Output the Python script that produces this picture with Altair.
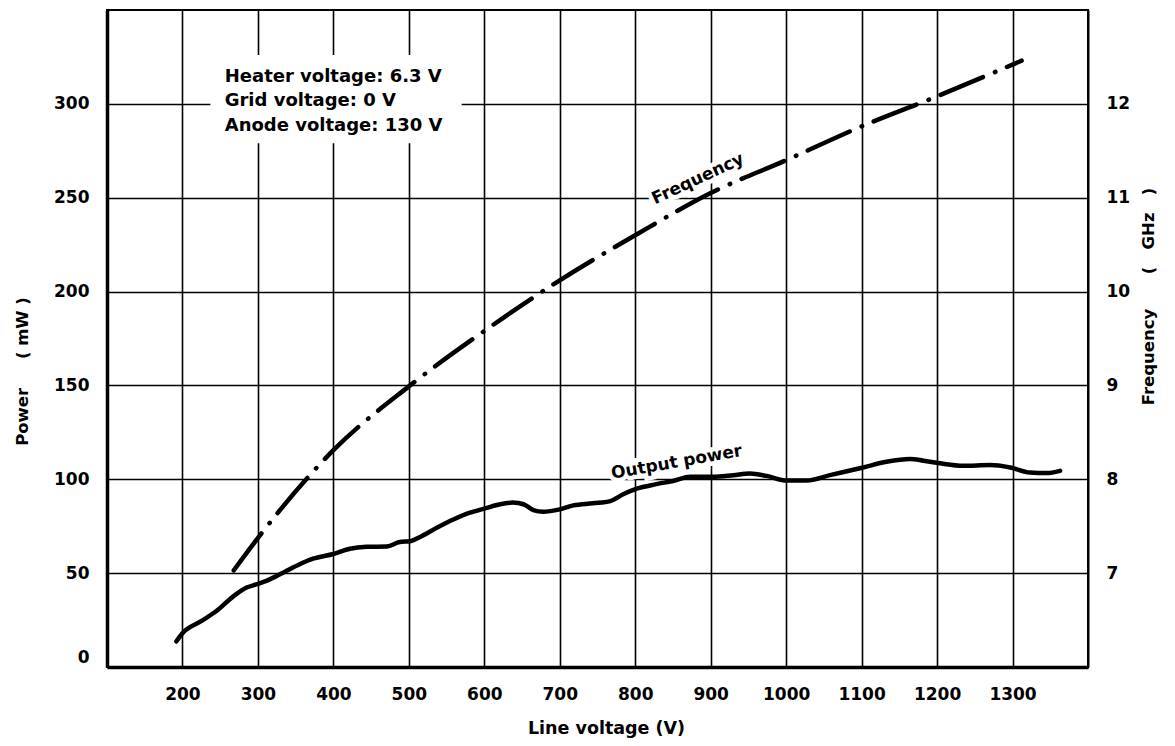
import altair as alt
import pandas as pd

# ---- data ----
power_volts = [192, 200, 223, 245, 267, 285, 300, 312, 334, 356, 373, 400, 422, 444, 471,
               488, 502, 515, 537, 559, 581, 601, 621, 638, 652, 665, 678, 700, 718, 744,
               767, 784, 802, 828, 850, 873, 903, 930, 952, 974, 1001, 1027, 1058, 1102,
               1133, 1164, 1182, 1204, 1235, 1270, 1297, 1323, 1345, 1363]
power_mw = [13.7, 18.0, 24.0, 29.8, 37.5, 42.3, 44.3, 46.0, 50.4, 54.9, 57.7, 60.2, 63.0, 64.0, 64.2,
            66.6, 67.0, 69.3, 74.2, 78.6, 82.2, 84.5, 86.7, 87.6, 86.7, 83.6, 82.7, 84.0, 86.1, 87.2,
            88.4, 92.0, 95.0, 97.4, 99.1, 101.3, 101.3, 102.2, 103.1, 101.8, 99.3, 99.3, 102.2, 106.3,
            109.3, 110.8, 109.9, 108.5, 107.2, 107.6, 106.3, 103.6, 103.3, 104.5]

freq_volts = [268, 320, 400, 500, 600, 700, 800, 900, 1000, 1100, 1200, 1312]
freq_ghz = [7.03, 7.58, 8.31, 8.99, 9.58, 10.12, 10.60, 11.05, 11.40, 11.76, 12.08, 12.46]

x_ticks = [200, 300, 400, 500, 600, 700, 800, 900, 1000, 1100, 1200, 1300]
power_ticks = [0, 50, 100, 150, 200, 250, 300]
freq_ticks = [7, 8, 9, 10, 11, 12]

NB = "\u00a0"
x_title = "Line voltage (V)"
power_title = "Power" + NB * 5 + "(" + NB + "mW" + NB + ")"
freq_title = "Frequency" + NB * 6 + "(" + NB * 3 + "GHz" + NB * 3 + ")"
annotation_lines = ["Heater voltage: 6.3 V", "Grid voltage: 0 V", "Anode voltage: 130 V"]
curve_labels = ["Frequency", "Output power"]

FONT = "DejaVu Sans"
WEIGHT = "bold"

power_df = pd.DataFrame({"v": power_volts, "p": power_mw})
freq_df = pd.DataFrame({"v": freq_volts, "f": freq_ghz})

x_axis = alt.Axis(values=x_ticks, format="d", grid=True, title=x_title, titleX=499,
                  titleY=70, titleBaseline="bottom", labelPadding=19, domainWidth=3.5, ticks=False,
                  tickSize=0, labelFontSize=17, titleFontSize=17.5, gridWidth=1.6)
x_scale = alt.Scale(domain=[100, 1400], nice=False, zero=False)
p_scale = alt.Scale(domain=[0, 350], nice=False, zero=False)
f_scale = alt.Scale(domain=[6, 13], nice=False, zero=False)


def X(field="v"):
    return alt.X(f"{field}:Q", scale=x_scale, axis=x_axis)


def YP(field="p", axis=None):
    return alt.Y(f"{field}:Q", scale=p_scale, axis=axis)


# white background behind the condition block (breaks the grid like the original)
box_df = pd.DataFrame({"v": [237], "v2": [570], "p": [279], "p2": [326]})
box = alt.Chart(box_df).mark_rect(color="white").encode(
    x=X(), x2="v2:Q", y=YP(), y2="p2:Q")

lab_df = pd.DataFrame({"v": [883, 855], "p": [260, 109], "t": curve_labels, "a": [335, 350]})


def curve_text(halo):
    kw = dict(stroke="white", strokeWidth=9, fill="white") if halo else dict(color="black")
    return alt.Chart(lab_df).mark_text(font=FONT, fontSize=17, fontWeight=WEIGHT,
                                       align="center", baseline="middle", **kw).encode(
        x=X(), y=YP(), text="t:N", angle=alt.Angle("a:Q", scale=None))


halo = curve_text(True)
labels = curve_text(False)

power_axis = alt.Axis(values=power_ticks, format="d", grid=True, title=power_title, titleX=-85,
                      titleY=361, titleAngle=270, titleBaseline="middle", labelPadding=18,
                      domainWidth=3.5, ticks=False, tickSize=0, labelFontSize=17,
                      titleFontSize=16.5, gridWidth=1.6,
                      labelOffset={"condition": {"test": "datum.value === 0", "value": -10}, "value": 0})

power = alt.Chart(power_df).mark_line(color="black", strokeWidth=4.5, interpolate="monotone",
                                      strokeCap="round", strokeJoin="round").encode(
    x=X(), y=YP(axis=power_axis))

freq_axis = alt.Axis(values=freq_ticks, format="d", orient="right", grid=False,
                     title=freq_title, titleX=60, titleY=286, titleAngle=270,
                     titleBaseline="middle", labelPadding=18, domainWidth=2, ticks=False,
                     tickSize=0, labelFontSize=17, titleFontSize=16.5)

freq = alt.Chart(freq_df).mark_line(color="black", strokeWidth=4.5, interpolate="monotone",
                                    strokeCap="round", strokeDash=[46, 13, 0.5, 12.5]).encode(
    x=X(), y=alt.Y("f:Q", scale=f_scale, axis=freq_axis))

ann_df = pd.DataFrame({"v": [256], "p": [314.5]})
ann = alt.Chart(ann_df).mark_text(font=FONT, fontSize=18, fontWeight=WEIGHT, align="left",
                                  baseline="middle", lineHeight=24.5, color="black").encode(
    x=X(), y=YP(), text=alt.value(annotation_lines))

chart = alt.layer(box, halo, power, freq, labels, ann).resolve_scale(y="independent").properties(
    width=981, height=657,
    padding={"left": 99, "top": 2, "right": 70, "bottom": 71},
    autosize=alt.AutoSizeParams(type="none"),
).configure_axis(
    labelFont=FONT, titleFont=FONT, labelColor="black", titleColor="black",
    labelFontWeight=WEIGHT, titleFontWeight=WEIGHT, domainColor="black",
    gridColor="black", gridOpacity=1,
).configure_view(stroke="black", strokeWidth=2)

chart.save("out.html", embed_options={"renderer": "svg", "actions": False})
